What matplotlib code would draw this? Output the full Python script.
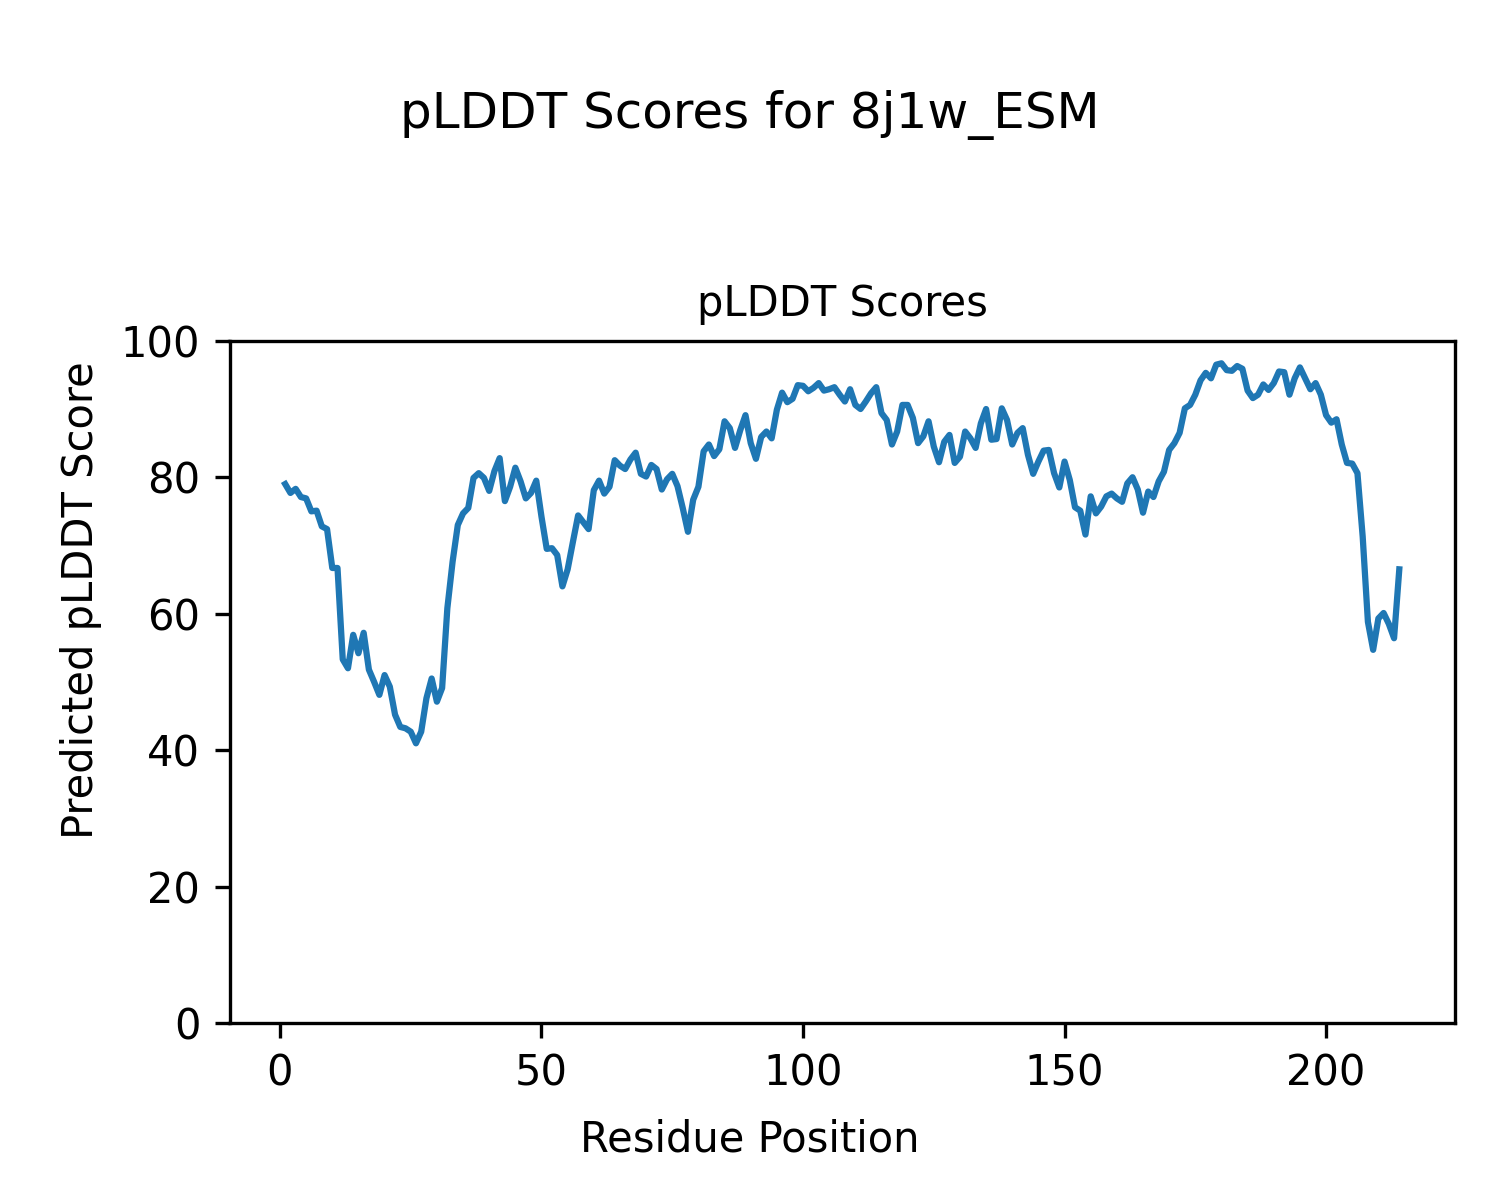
import numpy as np
import matplotlib
matplotlib.use("Agg")
import matplotlib.pyplot as plt

# pLDDT per residue
plddt = [
    79.0, 77.7, 78.3, 77.1, 76.9, 75.0, 75.1, 72.8, 72.4, 66.7,
    66.7, 53.3, 52.0, 56.9, 54.2, 57.2, 51.8, 50.0, 48.1, 51.0,
    49.3, 45.2, 43.4, 43.2, 42.7, 41.0, 42.7, 47.6, 50.5, 47.1,
    49.1, 60.8, 67.6, 73.0, 74.7, 75.5, 79.9, 80.6, 79.9, 78.0,
    80.9, 82.8, 76.5, 78.6, 81.4, 79.4, 76.9, 77.7, 79.5, 74.2,
    69.5, 69.6, 68.6, 64.0, 66.5, 70.5, 74.4, 73.4, 72.4, 78.1,
    79.5, 77.6, 78.6, 82.5, 81.7, 81.2, 82.6, 83.6, 80.5, 80.1,
    81.8, 81.2, 78.2, 79.7, 80.5, 78.7, 75.5, 72.0, 76.7, 78.6,
    83.8, 84.8, 83.1, 84.1, 88.2, 87.2, 84.3, 86.9, 89.1, 85.0,
    82.7, 85.9, 86.7, 85.7, 89.9, 92.4, 91.0, 91.5, 93.5, 93.4,
    92.6, 93.1, 93.8, 92.7, 92.9, 93.2, 92.1, 91.1, 92.9, 90.6,
    90.0, 91.1, 92.3, 93.2, 89.4, 88.4, 84.8, 86.7, 90.6, 90.6,
    88.7, 85.0, 86.0, 88.2, 84.5, 82.2, 85.2, 86.2, 82.1, 83.0,
    86.7, 85.7, 84.3, 87.9, 90.0, 85.5, 85.6, 90.1, 88.4, 84.8,
    86.5, 87.2, 83.3, 80.5, 82.3, 83.9, 84.0, 80.6, 78.5, 82.3,
    79.6, 75.6, 75.1, 71.6, 77.2, 74.7, 75.7, 77.2, 77.6, 76.9,
    76.4, 79.1, 80.0, 78.2, 74.8, 77.9, 77.1, 79.4, 80.8, 84.0,
    85.0, 86.5, 90.1, 90.6, 92.1, 94.2, 95.3, 94.5, 96.5, 96.7,
    95.7, 95.6, 96.3, 95.9, 92.7, 91.6, 92.1, 93.6, 92.8, 93.8,
    95.5, 95.4, 92.1, 94.5, 96.1, 94.5, 92.9, 93.8, 92.1, 89.1,
    88.0, 88.5, 84.8, 82.1, 82.0, 80.6, 71.3, 58.8, 54.7, 59.3,
    60.1, 58.5, 56.4, 66.5,
]
residues = np.arange(1, len(plddt) + 1)

fig, ax = plt.subplots(figsize=(5, 4), dpi=300)
fig.subplots_adjust(left=0.153, right=0.97, bottom=0.1475, top=0.716)

ax.plot(residues, plddt)
ax.set_ylim(0, 100)
ax.set_title("pLDDT Scores", fontsize=10)

fig.suptitle("pLDDT Scores for 8j1w_ESM", fontsize=12, y=0.925)
fig.supxlabel("Residue Position", fontsize=10, y=0.033)
fig.supylabel("Predicted pLDDT Score", fontsize=10, x=0.04)

fig.savefig("out.png", dpi=300)
